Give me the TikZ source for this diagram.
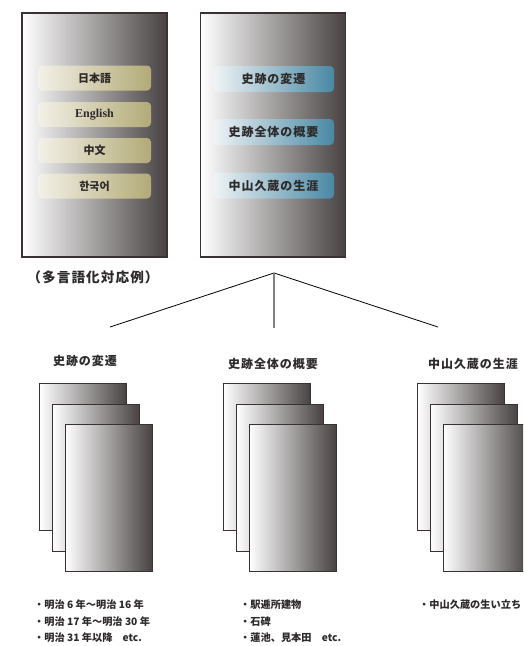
\documentclass[tikz,border=0pt]{standalone}
\usepackage{fontspec}
\usepackage{xcolor}
\usepackage{tikz}
\setmainfont{Liberation Serif}
\newfontfamily\jpfont{Noto Sans CJK JP}
\newfontfamily\jptrack{Noto Sans CJK JP}[LetterSpace=8]
\newfontfamily\krfont{Noto Sans CJK KR}

\definecolor{edgegray}{RGB}{58,50,50}
\definecolor{sheetdark}{RGB}{72,66,66}
\definecolor{olivelight}{RGB}{243,241,232}
\definecolor{olivedark}{RGB}{178,170,118}
\definecolor{bluelight}{RGB}{240,244,246}
\definecolor{bluedark}{RGB}{72,136,164}
\definecolor{inkgray}{RGB}{45,42,42}

\begin{document}
\begin{tikzpicture}[x=1pt, y=-1pt,
    panel/.style={rectangle, draw=edgegray, line width=1.4pt, left color=white, right color=sheetdark, minimum width=145pt, minimum height=244pt, inner sep=0pt},
    langbtn/.style={rectangle, rounded corners=4pt, left color=olivelight, right color=olivedark, minimum width=113pt, minimum height=25pt, text=inkgray},
    menubtn/.style={rectangle, rounded corners=4pt, left color=bluelight, right color=bluedark, minimum width=121pt, minimum height=26pt, text=inkgray, font=\jptrack\bfseries\fontsize{12}{14}\selectfont},
    sheet/.style={rectangle, draw=edgegray, line width=1pt, left color=white, right color=sheetdark, minimum width=87pt, minimum height=147pt, inner sep=0pt, anchor=north west},
    heading/.style={text=inkgray, font=\jptrack\bfseries\fontsize{12}{14}\selectfont},
    itemtext/.style={anchor=base west, inner sep=0pt, text=inkgray, font=\jpfont\bfseries\fontsize{10.2}{12}\selectfont},
    branch/.style={line width=0.8pt, draw=black},
    stem/.style={line width=1.3pt, draw=gray}
]
    \useasboundingbox (0,0) rectangle (523,646);
    \clip (0,0) rectangle (523,646);

    % Panels
    \node[panel] (langpanel) at (94.5,135) {};
    \node[panel] (menupanel) at (273,135) {};

    \node[langbtn, font=\jpfont\bfseries\fontsize{11}{13}\selectfont] (btnja) at (94.5,78) {日本語};
    \node[langbtn, font=\bfseries\fontsize{12}{14}\selectfont] (btnen) at (94.5,114.5) {English};
    \node[langbtn, font=\jpfont\bfseries\fontsize{11}{13}\selectfont] (btnzh) at (94.5,150.5) {中文};
    \node[langbtn, font=\krfont\bfseries\fontsize{11}{13}\selectfont] (btnko) at (94.5,186) {한국어};

    \node[menubtn] (btnhist) at (273.5,79) {史跡の変遷};
    \node[menubtn] (btnwhole) at (273.5,132) {史跡全体の概要};
    \node[menubtn] (btnlife) at (273.5,185.5) {中山久蔵の生涯};

    \node[text=inkgray, font=\jptrack\bfseries\fontsize{13.6}{15}\selectfont] (caption) at (93,277) {（多言語化対応例）};

    % Branches
    \coordinate (fork) at (274,273);
    \coordinate (histend) at (110,327);
    \coordinate (wholeend) at (274,328);
    \coordinate (lifeend) at (438,327);
    \draw[branch] (fork) -- (histend);
    \draw[branch] (fork) -- (lifeend);
    \draw[stem] (fork) -- (wholeend);

    % Headings
    \node[heading] (histtitle) at (85,361) {史跡の変遷};
    \node[heading] (wholetitle) at (273,364) {史跡全体の概要};
    \node[heading] (lifetitle) at (473,364) {中山久蔵の生涯};

    % Sheets
    \foreach \sx/\nm in {39/hist,223/whole,417/life}{
        \foreach \k in {0,1,2}{
            \node[sheet] (\nm sheet\k) at (\sx+12.8*\k,383+20.5*\k) {};
        }
    }

    % Lists
    \node[itemtext] (histitem1) at (34,608.5) {・明治 6 年～明治 16 年};
    \node[itemtext] (histitem2) at (34,625) {・明治 17 年～明治 30 年};
    \node[itemtext] (histitem3) at (34,641.5) {・明治 31 年以降　etc.};
    \node[itemtext] (wholeitem1) at (240,608.5) {・駅逓所建物};
    \node[itemtext] (wholeitem2) at (240,625) {・石碑};
    \node[itemtext] (wholeitem3) at (240,641.5) {・蓮池、見本田　etc.};
    \node[itemtext] (lifeitem1) at (419,608.5) {・中山久蔵の生い立ち};
\end{tikzpicture}
\end{document}
